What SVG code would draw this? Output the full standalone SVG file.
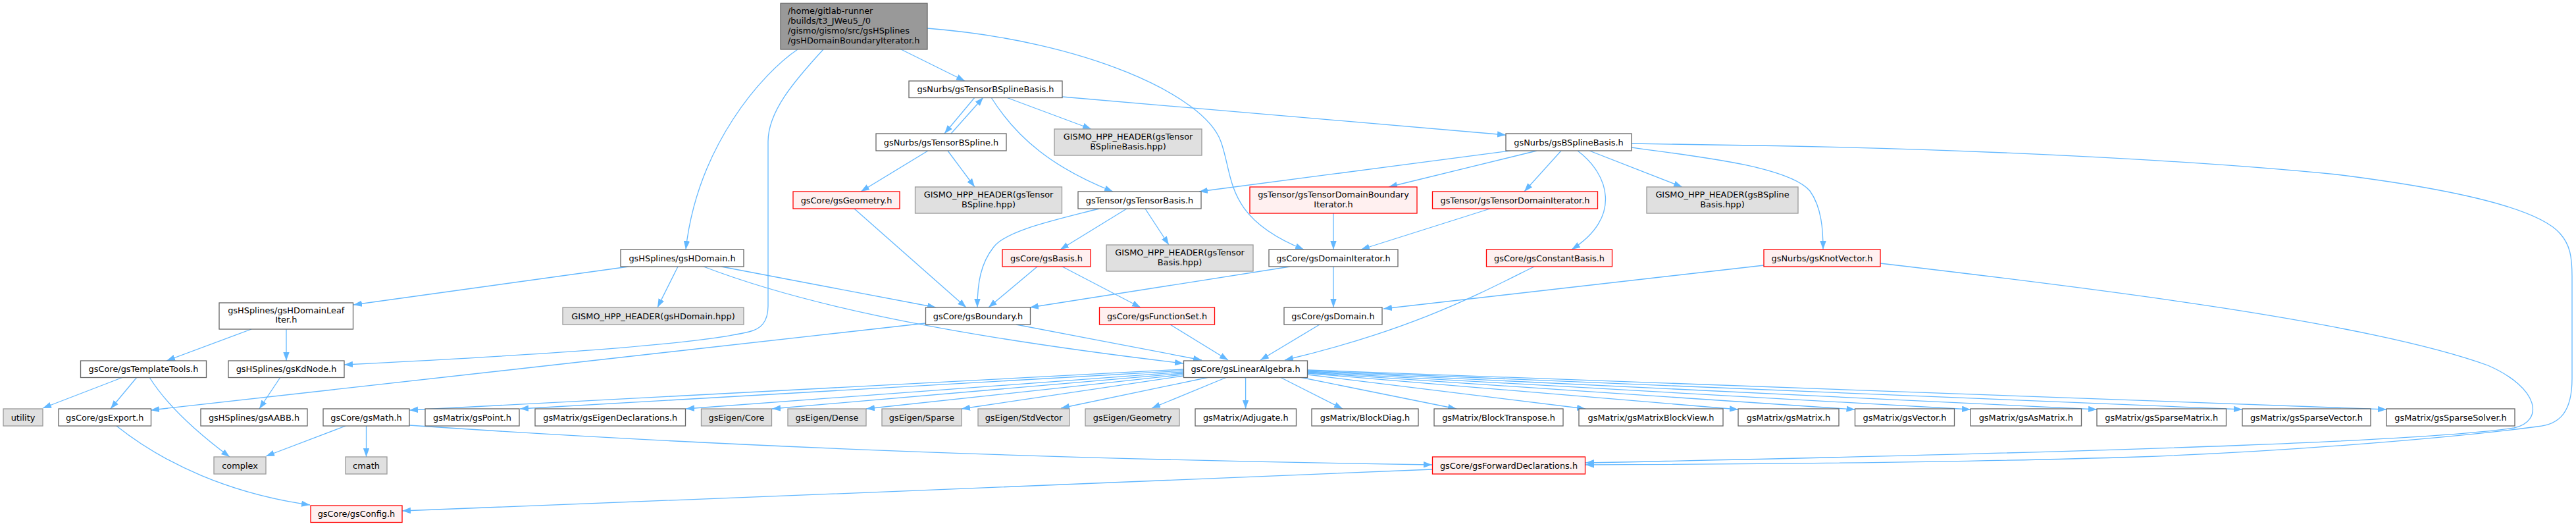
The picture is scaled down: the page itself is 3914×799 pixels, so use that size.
<svg xmlns="http://www.w3.org/2000/svg" width="3914" height="799" viewBox="0 0 3914 799">
<defs>
<marker id="a" markerUnits="userSpaceOnUse" markerWidth="14" markerHeight="10" refX="13" refY="4.7" orient="auto"><path d="M0,0L13,4.7L0,9.4z" fill="#63b8ff"/></marker>
<style>
.n rect{fill:#ffffff;stroke:#666666;stroke-width:1.3}
.g rect{fill:#e0e0e0;stroke:#999999;stroke-width:1.3}
.r rect{fill:#fff0f0;stroke:#ff0000;stroke-width:1.3}
.t rect{fill:#999999;stroke:#666666;stroke-width:1.3}
text{font-family:"DejaVu Sans","Liberation Sans",sans-serif;font-size:12.9px;fill:#000000;text-anchor:middle}
.t text{text-anchor:start}
#edges path{fill:none;stroke:#63b8ff;stroke-width:1.3;marker-end:url(#a)}
</style>
</defs>
<rect width="3914" height="799" fill="#ffffff"/>
<g id="edges">
<path d="M1212,75 C1160,110 1060,220 1042,379"/>
<path d="M1251,75 C1205,125 1167,170 1167,215 L1167,465 C1167,490 1155,500 1138,504 C1050,525 800,540 523,554"/>
<path d="M1369,75 L1466,123"/>
<path d="M1409,43 C1650,62 1830,145 1855,215 C1875,270 1860,330 1981,379"/>
<path d="M1481,148 L1435,203"/>
<path d="M1445,203 L1494,148"/>
<path d="M1529,148 L1658,196"/>
<path d="M1506,148 C1545,210 1600,255 1691,291"/>
<path d="M1614,147 L2288,205"/>
<path d="M1410,229 L1308,291"/>
<path d="M1440,229 L1481,284"/>
<path d="M1670,317 C1600,335 1530,350 1510,375 C1490,400 1485,430 1485,467"/>
<path d="M1712,317 L1611,379"/>
<path d="M1740,317 L1776,372"/>
<path d="M1298,317 L1468,467"/>
<path d="M1576,405 L1502,467"/>
<path d="M1614,405 L1733,467"/>
<path d="M1960,405 L1565,467"/>
<path d="M2026,405 L2026,467"/>
<path d="M2026,324 L2026,379"/>
<path d="M2264,317 L2068,379"/>
<path d="M2295,229 L1822,291"/>
<path d="M2335,229 L2110,284"/>
<path d="M2372,229 L2316,291"/>
<path d="M2397,229 C2445,265 2465,330 2388,379"/>
<path d="M2415,229 L2556,284"/>
<path d="M2479,224 C2600,240 2720,255 2750,290 C2768,315 2770,350 2770,379"/>
<path d="M2479,218 L2600,220 C3000,225 3350,245 3550,265 C3750,290 3860,320 3890,355 C3905,372 3908,390 3908,420 L3908,575 C3908,625 3890,645 3855,648 C3750,662 3500,685 3250,694 C3000,702 2700,705 2409,706"/>
<path d="M2857,400 C3200,440 3600,490 3780,555 C3860,590 3865,640 3820,650 C3700,668 3300,685 2409,703"/>
<path d="M2680,403 L2102,469"/>
<path d="M2331,405 C2250,445 2150,500 1952,547"/>
<path d="M2005,493 L1915,547"/>
<path d="M1778,493 L1866,547"/>
<path d="M1544,493 L1826,547"/>
<path d="M1069,405 C1200,455 1400,505 1798,552"/>
<path d="M1096,405 L1422,467"/>
<path d="M1030,405 L999,467"/>
<path d="M955,405 L537,463"/>
<path d="M382,500 L253,548"/>
<path d="M435,500 L435,548"/>
<path d="M426,573 L394,621"/>
<path d="M187,573 L65,620"/>
<path d="M208,573 L168,621"/>
<path d="M227,573 C250,610 290,650 349,694"/>
<path d="M1406,491 L229,623"/>
<path d="M177,647 C250,705 350,750 471,767"/>
<path d="M525,647 L404,693"/>
<path d="M556.5,647 L556.5,694"/>
<path d="M622,646 C900,665 1400,695 2176,706"/>
<path d="M2176,713 C1900,724 1000,762 611,776"/>
<path d="M1798,561 L622,623"/>
<path d="M1798,563 L790,621"/>
<path d="M1798,565 L1042,621"/>
<path d="M1798,567 L1173,621"/>
<path d="M1798,569 L1316,621"/>
<path d="M1798,571 L1461,621"/>
<path d="M1837,573 L1612,620"/>
<path d="M1864,573 L1750,620"/>
<path d="M1892.6,573 L1892.6,621"/>
<path d="M1945,573 L2040,621"/>
<path d="M1975,573 L2213,621"/>
<path d="M1986.6,569 L2409,621"/>
<path d="M1986.6,567 L2641,622"/>
<path d="M1986.6,566 L2818.5,622"/>
<path d="M1986.6,565 L2994,622"/>
<path d="M1986.6,564 L3186,622"/>
<path d="M1986.6,563 L3407,622"/>
<path d="M1986.6,562 L3626,622"/>
</g>
<g id="n_top" class="t"><rect x="1186" y="5" width="223" height="70"/><text x="1197" y="21.3">/home/gitlab-runner</text><text x="1197" y="36.1">/builds/t3_JWeu5_/0</text><text x="1197" y="50.9">/gismo/gismo/src/gsHSplines</text><text x="1197" y="65.7">/gsHDomainBoundaryIterator.h</text></g>
<g id="n_tbsb" class="n"><rect x="1381" y="123" width="233" height="25.5"/><text x="1497.5" y="140.3">gsNurbs/gsTensorBSplineBasis.h</text></g>
<g id="n_tbs" class="n"><rect x="1331" y="203" width="198" height="26"/><text x="1430" y="220.6">gsNurbs/gsTensorBSpline.h</text></g>
<g id="n_hpptbsb" class="g"><rect x="1602" y="196" width="224" height="40"/><text x="1714" y="212.3">GISMO_HPP_HEADER(gsTensor</text><text x="1714" y="226.9">BSplineBasis.hpp)</text></g>
<g id="n_bsb" class="n"><rect x="2288" y="203" width="191" height="26"/><text x="2383.5" y="220.6">gsNurbs/gsBSplineBasis.h</text></g>
<g id="n_geom" class="r"><rect x="1205" y="291" width="162" height="26"/><text x="1286" y="308.6">gsCore/gsGeometry.h</text></g>
<g id="n_hpptbs" class="g"><rect x="1390.5" y="284" width="223" height="40"/><text x="1502" y="300.3">GISMO_HPP_HEADER(gsTensor</text><text x="1502" y="314.9">BSpline.hpp)</text></g>
<g id="n_tb" class="n"><rect x="1638" y="291" width="187" height="26"/><text x="1731.5" y="308.6">gsTensor/gsTensorBasis.h</text></g>
<g id="n_tdbi" class="r"><rect x="1899" y="284" width="254" height="40"/><text x="2026" y="300.3">gsTensor/gsTensorDomainBoundary</text><text x="2026" y="314.9">Iterator.h</text></g>
<g id="n_tdi" class="r"><rect x="2176.5" y="291" width="251" height="26"/><text x="2302" y="308.6">gsTensor/gsTensorDomainIterator.h</text></g>
<g id="n_hppbsb" class="g"><rect x="2502" y="284" width="230" height="40"/><text x="2617" y="300.3">GISMO_HPP_HEADER(gsBSpline</text><text x="2617" y="314.9">Basis.hpp)</text></g>
<g id="n_hdom" class="n"><rect x="943" y="379" width="187" height="26"/><text x="1036.5" y="396.6">gsHSplines/gsHDomain.h</text></g>
<g id="n_basis" class="r"><rect x="1523" y="379" width="134" height="26"/><text x="1590" y="396.6">gsCore/gsBasis.h</text></g>
<g id="n_hpptb" class="g"><rect x="1681" y="372" width="223" height="40"/><text x="1792.5" y="388">GISMO_HPP_HEADER(gsTensor</text><text x="1792.5" y="402.6">Basis.hpp)</text></g>
<g id="n_domit" class="n"><rect x="1928" y="379" width="196" height="26"/><text x="2026" y="396.6">gsCore/gsDomainIterator.h</text></g>
<g id="n_constb" class="r"><rect x="2258.5" y="379" width="191" height="26"/><text x="2354" y="396.6">gsCore/gsConstantBasis.h</text></g>
<g id="n_knot" class="r"><rect x="2680" y="379" width="177" height="26"/><text x="2768.5" y="396.6">gsNurbs/gsKnotVector.h</text></g>
<g id="n_hpphd" class="g"><rect x="855" y="467" width="275" height="26"/><text x="992.5" y="484.6">GISMO_HPP_HEADER(gsHDomain.hpp)</text></g>
<g id="n_leaf" class="n"><rect x="333" y="460" width="203.5" height="40"/><text x="434.75" y="475.6">gsHSplines/gsHDomainLeaf</text><text x="434.75" y="490.3">Iter.h</text></g>
<g id="n_bnd" class="n"><rect x="1406.5" y="467" width="159" height="26"/><text x="1486" y="484.6">gsCore/gsBoundary.h</text></g>
<g id="n_fset" class="r"><rect x="1670.5" y="467" width="175" height="26"/><text x="1758" y="484.6">gsCore/gsFunctionSet.h</text></g>
<g id="n_dom" class="n"><rect x="1951" y="467" width="149" height="26"/><text x="2025.5" y="484.6">gsCore/gsDomain.h</text></g>
<g id="n_tt" class="n"><rect x="122.5" y="548" width="191" height="25.5"/><text x="218" y="565.3">gsCore/gsTemplateTools.h</text></g>
<g id="n_kd" class="n"><rect x="347" y="548" width="176" height="25.5"/><text x="435" y="565.3">gsHSplines/gsKdNode.h</text></g>
<g id="n_la" class="n"><rect x="1798.5" y="548" width="188" height="25.5"/><text x="1892.5" y="565.3">gsCore/gsLinearAlgebra.h</text></g>
<g id="n_utility" class="g"><rect x="5" y="621" width="60" height="26"/><text x="35" y="638.6">utility</text></g>
<g id="n_export" class="n"><rect x="89" y="621" width="140.5" height="26"/><text x="159.25" y="638.6">gsCore/gsExport.h</text></g>
<g id="n_aabb" class="n"><rect x="305" y="621" width="162" height="26"/><text x="386" y="638.6">gsHSplines/gsAABB.h</text></g>
<g id="n_math" class="n"><rect x="491" y="621" width="131" height="26"/><text x="556.5" y="638.6">gsCore/gsMath.h</text></g>
<g id="n_point" class="n"><rect x="646" y="621" width="143" height="26"/><text x="717.5" y="638.6">gsMatrix/gsPoint.h</text></g>
<g id="n_eigdecl" class="n"><rect x="813" y="621" width="228.5" height="26"/><text x="927.25" y="638.6">gsMatrix/gsEigenDeclarations.h</text></g>
<g id="n_core" class="g"><rect x="1065.5" y="621" width="107" height="26"/><text x="1119" y="638.6">gsEigen/Core</text></g>
<g id="n_dense" class="g"><rect x="1197" y="621" width="119" height="26"/><text x="1256.5" y="638.6">gsEigen/Dense</text></g>
<g id="n_sparse" class="g"><rect x="1340" y="621" width="121" height="26"/><text x="1400.5" y="638.6">gsEigen/Sparse</text></g>
<g id="n_stdvec" class="g"><rect x="1486" y="621" width="139" height="26"/><text x="1555.5" y="638.6">gsEigen/StdVector</text></g>
<g id="n_geomE" class="g"><rect x="1649" y="621" width="143" height="26"/><text x="1720.5" y="638.6">gsEigen/Geometry</text></g>
<g id="n_adj" class="n"><rect x="1816" y="621" width="153.5" height="26"/><text x="1892.75" y="638.6">gsMatrix/Adjugate.h</text></g>
<g id="n_bdiag" class="n"><rect x="1993" y="621" width="162" height="26"/><text x="2074" y="638.6">gsMatrix/BlockDiag.h</text></g>
<g id="n_btrans" class="n"><rect x="2179" y="621" width="196" height="26"/><text x="2277" y="638.6">gsMatrix/BlockTranspose.h</text></g>
<g id="n_mbv" class="n"><rect x="2399" y="621" width="219" height="26"/><text x="2508.5" y="638.6">gsMatrix/gsMatrixBlockView.h</text></g>
<g id="n_mat" class="n"><rect x="2641" y="621" width="153" height="26"/><text x="2717.5" y="638.6">gsMatrix/gsMatrix.h</text></g>
<g id="n_vec" class="n"><rect x="2818.5" y="621" width="151" height="26"/><text x="2894" y="638.6">gsMatrix/gsVector.h</text></g>
<g id="n_asmat" class="n"><rect x="2994" y="621" width="168.5" height="26"/><text x="3078.25" y="638.6">gsMatrix/gsAsMatrix.h</text></g>
<g id="n_spmat" class="n"><rect x="3186" y="621" width="196.5" height="26"/><text x="3284.25" y="638.6">gsMatrix/gsSparseMatrix.h</text></g>
<g id="n_spvec" class="n"><rect x="3407" y="621" width="195" height="26"/><text x="3504.5" y="638.6">gsMatrix/gsSparseVector.h</text></g>
<g id="n_spsolv" class="n"><rect x="3626" y="621" width="195" height="26"/><text x="3723.5" y="638.6">gsMatrix/gsSparseSolver.h</text></g>
<g id="n_complex" class="g"><rect x="325" y="694" width="79" height="26"/><text x="364.5" y="711.6">complex</text></g>
<g id="n_cmath" class="g"><rect x="525" y="694" width="63" height="26"/><text x="556.5" y="711.6">cmath</text></g>
<g id="n_fwd" class="r"><rect x="2176.5" y="694" width="232" height="26"/><text x="2292.5" y="711.6">gsCore/gsForwardDeclarations.h</text></g>
<g id="n_config" class="r"><rect x="472" y="768" width="139" height="25.5"/><text x="541.5" y="785.3">gsCore/gsConfig.h</text></g>
</svg>
